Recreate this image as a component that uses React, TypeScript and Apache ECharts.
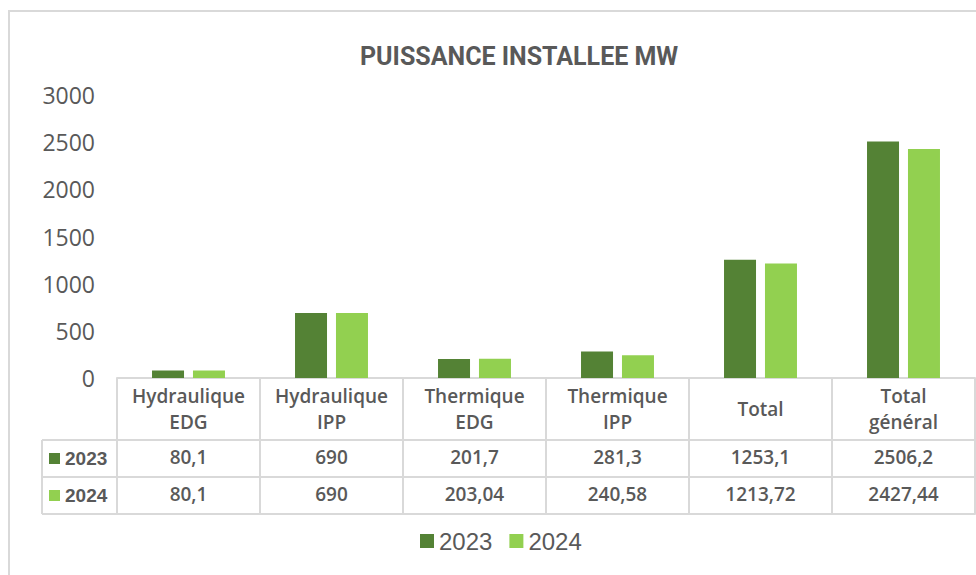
import React, { useEffect, useRef } from "react";
import * as echarts from "echarts";

const categories = ["Hydraulique\nEDG", "Hydraulique\nIPP", "Thermique\nEDG", "Thermique\nIPP", "Total", "Total\ngénéral"];
const seriesNames = ["2023", "2024"];
const values2023 = [80.1, 690, 201.7, 281.3, 1253.1, 2506.2];
const values2024 = [80.1, 690, 203.04, 240.58, 1213.72, 2427.44];
const seriesColors = ["#548235", "#92D050"];
const yMin = 0;
const yMax = 3000;
const yInterval = 500;

const fmt = (v: number) => String(v).replace(".", ",");

export default function App() {
  const ref = useRef<HTMLDivElement>(null);
  useEffect(() => {
    document.body.style.margin = "0";
    if (!ref.current) return;
    const chart = echarts.init(ref.current, undefined, { renderer: "svg" });
    const gridLeft = 117;
    const gridTop = 95;
    const axisY = 378;
    const row1 = 62;
    const row2 = 99;
    const row3 = 136;
    const keyLeft = 42;
    const lineColor = "#D9D9D9";
    const textColor = "#595959";
    const tableFont = "'Open Sans', sans-serif";

    const valueAxis = (vals: number[] | null, offset: number, margin: number) => ({
      type: "category",
      position: "bottom",
      data: categories,
      offset,
      axisLine: { show: true, lineStyle: { color: lineColor, width: 2 } },
      axisTick: { show: false },
      axisLabel: {
        show: vals !== null,
        interval: 0,
        margin,
        verticalAlign: "middle",
        fontFamily: tableFont,
        fontWeight: 600,
        fontSize: 19,
        color: textColor,
        formatter: (_: string, i: number) => (vals ? fmt(vals[i]) : ""),
      },
    });

    const rowCenters = [axisY + (row1 + row2) / 2, axisY + (row2 + row3) / 2];
    const keyGraphics: any[] = [];
    [row1, row2, row3].forEach((o) => {
      keyGraphics.push({
        type: "line",
        shape: { x1: keyLeft, y1: axisY + o, x2: gridLeft, y2: axisY + o },
        style: { stroke: lineColor, lineWidth: 2 },
      });
    });
    keyGraphics.push({
      type: "line",
      shape: { x1: keyLeft, y1: axisY + row1, x2: keyLeft, y2: axisY + row3 },
      style: { stroke: lineColor, lineWidth: 2 },
    });
    seriesNames.forEach((name, i) => {
      keyGraphics.push({
        type: "rect",
        shape: { x: 49, y: rowCenters[i] - 5.5, width: 11, height: 11 },
        style: { fill: seriesColors[i] },
      });
      keyGraphics.push({
        type: "text",
        x: 65,
        y: rowCenters[i],
        style: {
          text: name,
          fill: textColor,
          font: "bold 19px 'Liberation Sans', Arial, sans-serif",
          verticalAlign: "middle",
        },
      });
    });

    chart.setOption({
      animation: false,
      backgroundColor: "#ffffff",
      title: {
        text: "PUISSANCE INSTALLEE MW",
        left: 355,
        top: 39,
        textStyle: { fontFamily: "Roboto, sans-serif", fontWeight: "bold", fontSize: 25, color: textColor },
      },
      legend: {
        data: seriesNames,
        left: 415,
        top: 524,
        icon: "rect",
        itemWidth: 14,
        itemHeight: 14,
        itemGap: 17,
        textStyle: { fontFamily: "'Liberation Sans', Arial, sans-serif", fontSize: 24, color: textColor },
      },
      grid: { left: gridLeft, right: 1, top: gridTop, bottom: 575 - axisY, containLabel: false },
      xAxis: [
        {
          type: "category",
          position: "bottom",
          data: categories,
          axisLine: { show: true, lineStyle: { color: lineColor, width: 2 } },
          axisTick: { show: true, interval: 0, alignWithLabel: false, length: row3, lineStyle: { color: lineColor, width: 2 } },
          axisLabel: {
            interval: 0,
            margin: 31,
            verticalAlign: "middle",
            lineHeight: 26,
            fontFamily: tableFont,
            fontWeight: 600,
            fontSize: 19,
            color: textColor,
          },
        },
        valueAxis(values2023, row1, 17),
        valueAxis(values2024, row2, 17),
        valueAxis(null, row3, 10),
      ],
      yAxis: {
        type: "value",
        min: yMin,
        max: yMax,
        interval: yInterval,
        splitLine: { show: false },
        axisLine: { show: false },
        axisTick: { show: false },
        axisLabel: {
          margin: 22,
          fontFamily: "'Open Sans', sans-serif",
          fontSize: 23,
          color: textColor,
          formatter: (v: number) => String(v),
        },
      },
      series: [
        { name: seriesNames[0], type: "bar", data: values2023, barWidth: 32, barGap: "28%", itemStyle: { color: seriesColors[0] } },
        { name: seriesNames[1], type: "bar", data: values2024, barWidth: 32, barGap: "28%", itemStyle: { color: seriesColors[1] } },
      ],
      graphic: [
        {
          type: "rect",
          shape: { x: 9, y: 11, width: 1100, height: 700 },
          style: { fill: "none", stroke: lineColor, lineWidth: 2 },
          z: -1,
        },
        ...keyGraphics,
      ],
    });
    return () => chart.dispose();
  }, []);
  return <div ref={ref} style={{ width: 976, height: 575 }} />;
}
